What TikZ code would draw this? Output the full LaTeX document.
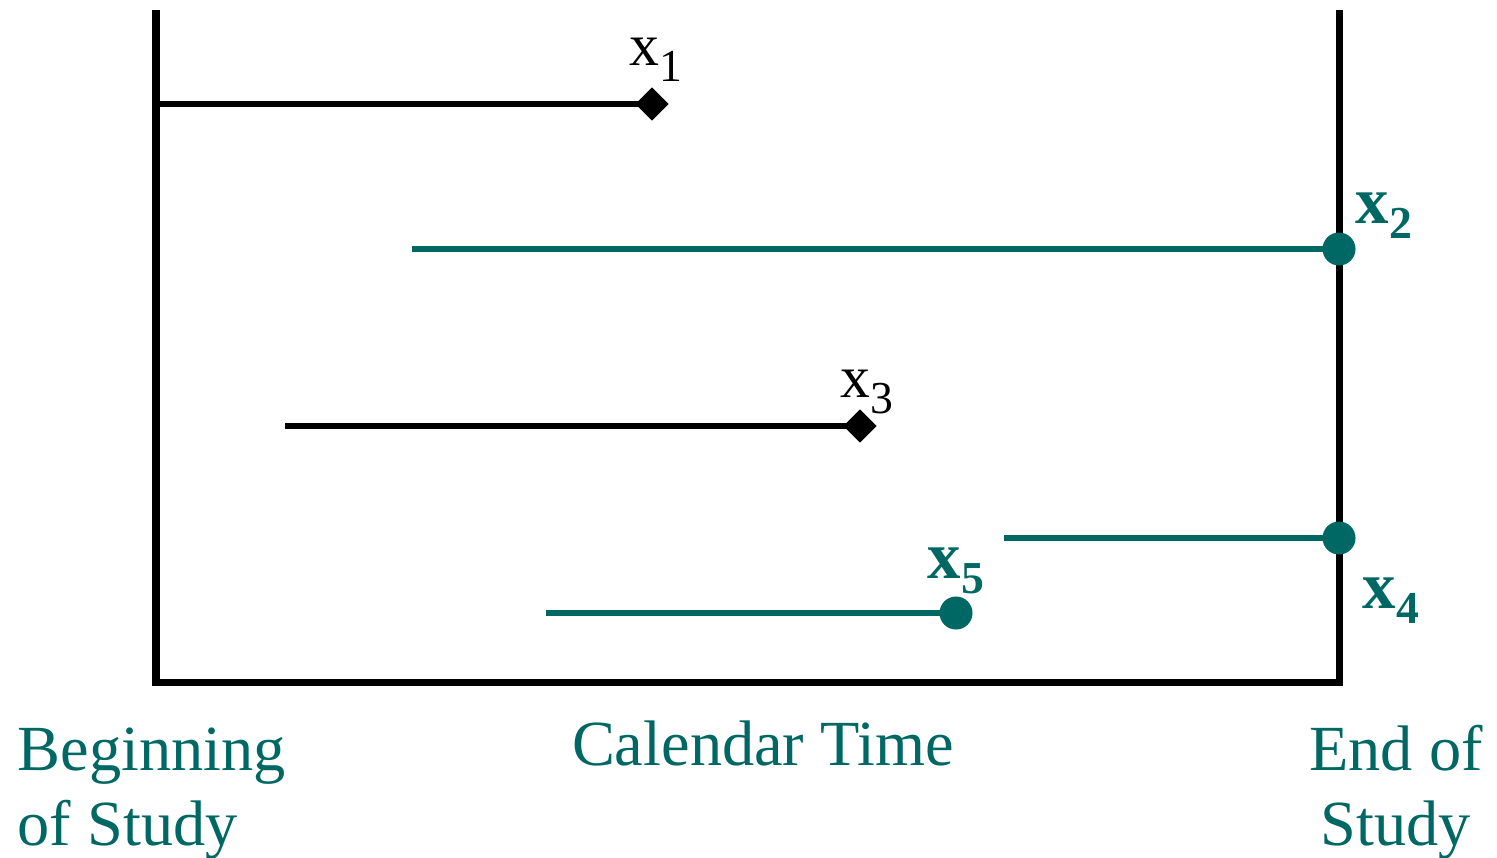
\documentclass[tikz,border=0pt]{standalone}
\usepackage{fontspec}
\setmainfont{Liberation Serif}
\usetikzlibrary{shapes.geometric,backgrounds}
\definecolor{studyteal}{RGB}{0,104,100}
\newcommand{\lblsub}[1]{\raisebox{-4.8pt}{\fontsize{13}{13}\selectfont #1}}
\newcommand{\lblsubb}[1]{\raisebox{-4.5pt}{\fontsize{13}{13}\selectfont\bfseries #1}}
\begin{document}
\begin{tikzpicture}[
  x=0.01cm, y=-0.01cm,
  stdframe/.style = {line width=2pt, black, line join=miter},
  stdevent/.style = {line width=1.5pt, black},
  stdcens/.style = {line width=1.5pt, studyteal},
  stddiamond/.style = {diamond, fill=black, inner sep=0pt, minimum size=0.34cm},
  stddot/.style = {circle, fill=studyteal, inner sep=0pt, minimum size=0.33cm},
  stdlbl/.style = {inner sep=0pt, font=\fontsize{17}{17}\selectfont},
  stdlblb/.style = {inner sep=0pt, text=studyteal, font=\fontsize{19}{19}\selectfont\bfseries},
  stdaxis/.style = {inner sep=0pt, text=studyteal, font=\fontsize{18.3}{21.3}\selectfont}
]
  \useasboundingbox (0,0) rectangle (1497,857);
  % ereignisse
  \node[stddiamond] (e1) at (652,104) {};
  \node[stddiamond] (e3) at (860,426) {};
  % zensiert
  \node[stddot] (e2) at (1339,249) {};
  \node[stddot] (e4) at (1339,538) {};
  \node[stddot] (e5) at (956,613) {};
  % anfang der segmente
  \coordinate (s1) at (156,104);
  \coordinate (s2) at (412,249);
  \coordinate (s3) at (285,426);
  \coordinate (s4) at (1004,538);
  \coordinate (s5) at (546,613);
  \begin{scope}[on background layer]
    % rahmen
    \draw[stdframe] (156,10) -- (156,682) -- (1339,682) -- (1339,10);
    \draw[stdevent] (s1) -- (e1.center);
    \draw[stdevent] (s3) -- (e3.center);
    \draw[stdcens] (s2) -- (e2.center);
    \draw[stdcens] (s4) -- (e4.center);
    \draw[stdcens] (s5) -- (e5.center);
  \end{scope}
  % beschriftung
  \node[stdlbl, anchor=base west] (l1) at (629,65) {x\lblsub{1}};
  \node[stdlbl, anchor=base west] (l3) at (840,397) {x\lblsub{3}};
  \node[stdlblb, anchor=base west] (l2) at (1355,223) {x\lblsubb{2}};
  \node[stdlblb, anchor=base west] (l4) at (1362,608) {x\lblsubb{4}};
  \node[stdlblb, anchor=base west] (l5) at (927,578) {x\lblsubb{5}};
  % achse
  \node[stdaxis, anchor=base] (cal) at (763,765) {Calendar Time};
  \node[stdaxis, anchor=base west, align=left] (beg) at (17,845) {Beginning\\of Study};
  \node[stdaxis, anchor=base, align=center] (end) at (1396,845) {End of\\Study};
\end{tikzpicture}
\end{document}
